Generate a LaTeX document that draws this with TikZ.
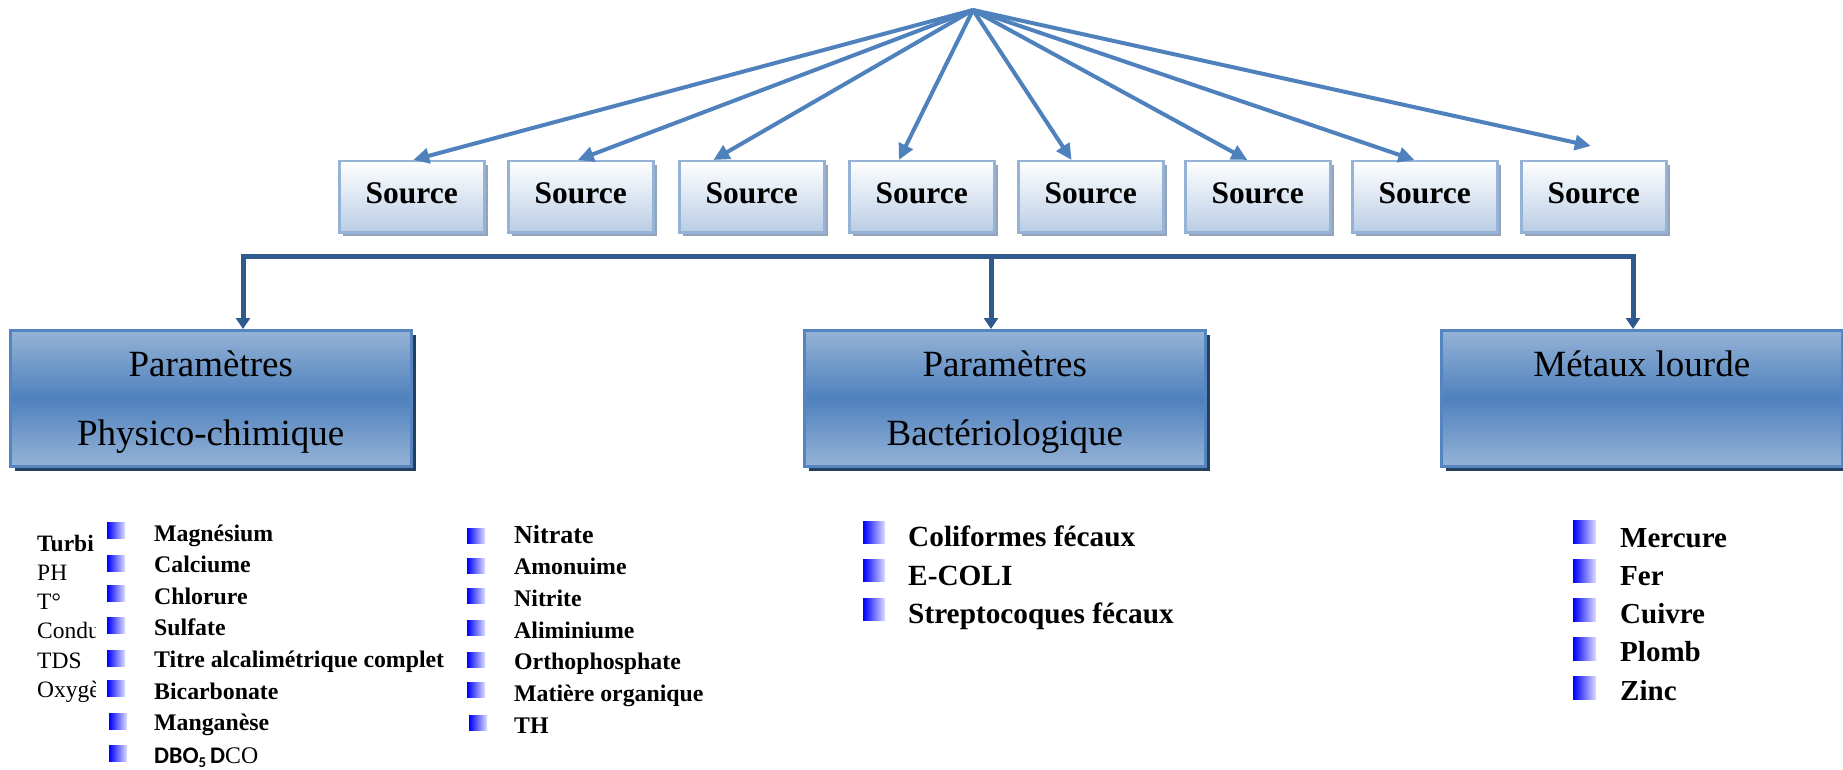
\documentclass[tikz,border=0pt]{standalone}
\usepackage{fontspec}
\setmainfont{Liberation Serif}
\newfontfamily\calib{Carlito}
\usetikzlibrary{arrows.meta,calc,shadows}
\definecolor{arrblue}{HTML}{4F81BD}
\definecolor{connblue}{HTML}{2F5A8E}
\definecolor{srcborder}{HTML}{95B3D7}
\definecolor{srcbot}{HTML}{B9CDE5}
\definecolor{srcshadow}{HTML}{94A3B8}
\definecolor{bigborder}{HTML}{5585C0}
\definecolor{bigtop}{HTML}{95B3D7}
\definecolor{bigmid}{HTML}{4F81BD}
\definecolor{bigshadow}{HTML}{243F60}
\definecolor{bulblue}{HTML}{0000FF}
\newcommand{\toppad}{\rule{0pt}{32.5pt}}
\begin{document}
\begin{tikzpicture}[x=1pt,y=-1pt,
  arr/.style={draw=arrblue, line width=4pt, -{Triangle[length=16pt,width=15pt]}},
  conn/.style={draw=connblue, line width=5pt},
  srcbox/.style={draw=srcborder, line width=2.5pt, top color=white, bottom color=srcbot,
    minimum width=145pt, minimum height=71pt, inner sep=0pt, anchor=north west, text depth=8pt,
    font=\fontsize{31.5}{34}\selectfont\bfseries,
    drop shadow={shadow xshift=4pt, shadow yshift=-4pt, fill=srcshadow, opacity=1}},
  bigbox/.style={draw=bigborder, line width=2.5pt, top color=bigtop, bottom color=bigtop, middle color=bigmid,
    minimum width=401pt, minimum height=136pt, inner sep=0pt, anchor=north west, align=center,
    font=\fontsize{37}{69}\selectfont,
    drop shadow={shadow xshift=5pt, shadow yshift=-5pt, fill=bigshadow, opacity=1}},
  bul/.style={rectangle, inner sep=0pt, anchor=north west, left color=bulblue, right color=bulblue!12},
  item/.style={anchor=base west, inner sep=0pt, font=\fontsize{23.8}{26}\selectfont\bfseries},
  itemz/.style={anchor=base west, inner sep=0pt, font=\fontsize{23.5}{26}\selectfont},
  itembig/.style={anchor=base west, inner sep=0pt, font=\fontsize{29.3}{32}\selectfont\bfseries}
]
\useasboundingbox (0,0) rectangle (1843,770);

% sources
\coordinate (apex) at (973,10);
\foreach \i/\x in {1/338,2/507,3/678,4/848,5/1017,6/1184,7/1351,8/1520}
  \node[srcbox] (s\i) at (\x,160) {Source};
\foreach \i/\f in {1/0.51,2/0.48,3/0.24,4/0.345,5/0.37,6/0.43,7/0.43}
  \draw[arr] (apex) -- ($(s\i.north west)!\f!(s\i.north east)$);
\draw[arr] (apex) -- ($(s8.north west)!0.48!(s8.north east)+(0,-14)$);

% big boxes
\node[bigbox] (b1) at (9,329) {\toppad Paramètres\\Physico-chimique};
\node[bigbox] (b2) at (803,329) {\toppad Paramètres\\Bactériologique};
\node[bigbox] (b3) at (1440,329) {\toppad Métaux lourde\\\vphantom{y}};

% connector
\coordinate (hl) at (243,256);
\coordinate (hm) at (991,256);
\coordinate (hr) at (1633,256);
\draw[conn, line join=miter, {Triangle[length=11pt,width=14pt]}-{Triangle[length=11pt,width=14pt]}]
  (hl |- b1.north) -- (hl) -- (hr) -- (hr |- b3.north);
\draw[conn, -{Triangle[length=11pt,width=14pt]}] (hm) -- (hm |- b2.north);

% column 0 (clipped)
\begin{scope}
\clip (0,520) rectangle (95,720);
\node[itemz, font=\fontsize{23.5}{26}\selectfont\bfseries] (z1) at (37,551) {Turbi};
\node[itemz] (z2) at (37,580.3) {PH};
\node[itemz] (z3) at (37,609.6) {T°};
\node[itemz] (z4) at (37,638.9) {Condu};
\node[itemz] (z5) at (37,668.2) {TDS};
\node[itemz] (z6) at (37,697.5) {Oxygè};
\end{scope}

% column 1
\foreach \k/\bx/\by in {1/107/522,2/107/555,3/107/585,4/107/617,5/107/650,6/107/680,7/109/713,8/109/745}
  \node[bul, minimum width=18pt, minimum height=16pt] (pb\k) at (\bx,\by) {};
\foreach \k/\t in {1/Magnésium,2/Calciume,3/Chlorure,4/Sulfate,5/Titre alcalimétrique complet,6/Bicarbonate,7/Manganèse}
  \node[item] (pt\k) at (154,{541+31.6*(\k-1)}) {\t};
\node[item] (pt8) at (154,763) {{\calib\bfseries DBO\raisebox{-4pt}{\fontsize{15}{15}\selectfont 5}\,D}{\mdseries CO}};

% column 2
\foreach \k/\bx/\by in {1/467/528,2/467/558,3/467/588,4/467/620,5/467/652,6/467/682,7/469/715}
  \node[bul, minimum width=18pt, minimum height=15pt] (qb\k) at (\bx,\by) {};
\node[item, font=\fontsize{26}{28}\selectfont\bfseries] (qt1) at (514,543) {Nitrate};
\foreach \k/\t in {2/Amonuime,3/Nitrite,4/Aliminiume,5/Orthophosphate,6/Matière organique,7/TH}
  \node[item] (qt\k) at (514,{543+31.7*(\k-1)}) {\t};

% column 3
\foreach \k/\by in {1/521,2/559,3/598}
  \node[bul, minimum width=22pt, minimum height=22pt] (rb\k) at (863,\by) {};
\node[itembig] (rt1) at (908,546) {Coliformes fécaux};
\node[itembig] (rt2) at (908,585) {E-COLI};
\node[itembig] (rt3) at (908,623) {Streptocoques fécaux};

% column 4
\foreach \k/\by in {1/520,2/559,3/598,4/637,5/676}
  \node[bul, minimum width=23pt, minimum height=23pt] (mb\k) at (1573,\by) {};
\foreach \k/\t in {1/Mercure,2/Fer,3/Cuivre,4/Plomb,5/Zinc}
  \node[itembig, font=\fontsize{29}{32}\selectfont\bfseries] (mt\k) at (1620,{547+38.3*(\k-1)}) {\t};
\end{tikzpicture}
\end{document}
